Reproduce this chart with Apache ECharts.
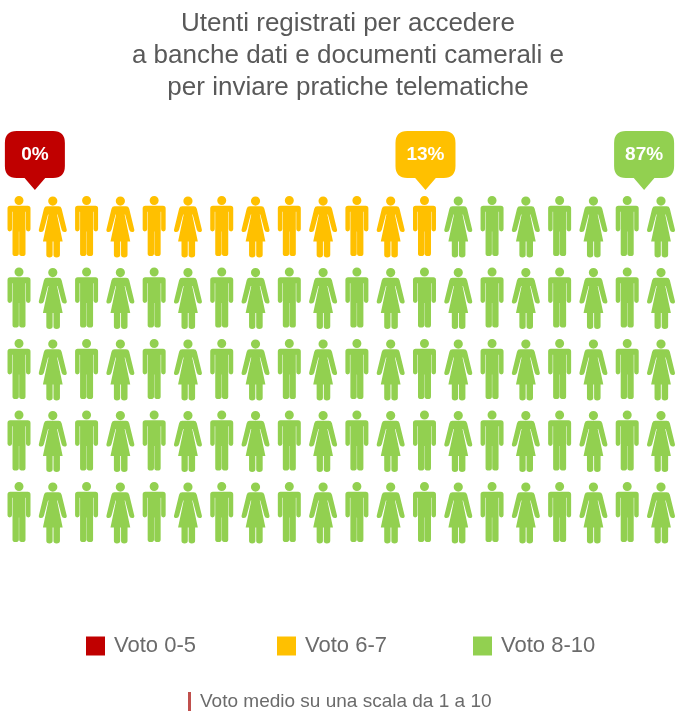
<!DOCTYPE html>
<html><head><meta charset="utf-8">
<style>html,body{margin:0;padding:0;background:#fff}#c{width:681px;height:728px}</style>
<script src="https://cdn.jsdelivr.net/npm/echarts@6/dist/echarts.min.js"></script>
</head><body><div id="c"></div>
<script>
const titleText = "Utenti registrati per accedere\na banche dati e documenti camerali e\nper inviare pratiche telematiche";
const footnote = "Voto medio su una scala da 1 a 10";
const categories = ["Voto 0-5", "Voto 6-7", "Voto 8-10"];
const shares = [0, 13, 87];
const colors = ["#C00000", "#FFC000", "#92D050"];
const calloutColumns = [0.47, 12.03, 18.5];
const columnCount = 20;
const rowCount = 5;

const MAN = "path://M34.5 0a13.5 13.5 0 1 1-.01 0zM8 29H61Q69 29 69 37V99Q69 105 62.500 105 55.500 105 55.500 99V47H54V171Q54 178 45.500 178 35 178 35 171V105H34V171Q34 178 24 178 15 178 15 171V47H13.500V99Q13.500 105 6.500 105 0 105 0 99V37Q0 29 8 29Z";
const WOMAN = "path://M41 0a13.500 13.500 0 1 1-.01 0zM24 29H58Q65 29 67 36L82 98Q83 105 75 105 69 105 67 98L55 53 53.500 53 70 133H62V172Q62 180 52 180 43 180 43 172V133H40.500V172Q40.500 180 31 180 22 180 22 172V133H12L28.500 53 27 53 15 98Q13 105 7 105-1 105 0 98L15 36Q17 29 24 29Z";
const BUBBLE = "path://M12 0H49Q61 0 61 12V35Q61 47 49 47H41L30.500 59 20 47H12Q0 47 0 35V12Q0 0 12 0Z";

// Assign each of the 100 figures, row by row, to a vote band according to its share
const bands = categories.map(() => []);
let person = 0;
shares.forEach((share, b) => {
  for (let i = 0; i < share; i++, person++) {
    const col = person % columnCount;
    const row = Math.floor(person / columnCount);
    bands[b].push({
      value: [col, row],
      symbol: col % 2 ? WOMAN : MAN,
      symbolSize: col % 2 ? [28, 61] : [23, 60],
      symbolOffset: col % 2 ? [0, 1] : [0, 0]
    });
  }
});

const series = categories.map((name, b) => ({
  name, type: "scatter", clip: false, silent: true,
  itemStyle: { color: colors[b], opacity: 1 },
  symbol: "rect",
  data: bands[b]
}));

series.push({
  type: "scatter", clip: false, silent: true,
  symbol: BUBBLE, symbolSize: [60, 59], symbolKeepAspect: false,
  data: shares.map((s, b) => ({
    value: [calloutColumns[b], -0.916],
    itemStyle: { color: colors[b], opacity: 1 },
    label: {
      show: true, position: "inside", offset: [0, -6],
      formatter: s + "%", color: "#fff", fontSize: 19, fontWeight: "bold",
      fontFamily: "Liberation Sans"
    }
  }))
});

const legendLefts = [86, 277, 473];
const chart = echarts.init(document.getElementById("c"), null, { renderer: "canvas" });
chart.setOption({
  animation: false,
  backgroundColor: "#fff",
  title: [{
    text: titleText, left: 343, top: 3, textAlign: "center",
    textStyle: { fontFamily: "Liberation Sans", fontSize: 26, fontWeight: "normal", color: "#595959", lineHeight: 32 }
  }, {
    text: footnote, left: 195, top: 687,
    textStyle: { fontFamily: "Liberation Sans", fontSize: 19, fontWeight: "normal", color: "#6B6B6B" }
  }],
  grid: { left: 19, right: 20, top: 154.5, bottom: 216 },
  xAxis: { type: "value", min: 0, max: columnCount - 1, show: false },
  yAxis: { type: "value", min: -1, max: rowCount - 1, inverse: true, show: false },
  legend: categories.map((name, b) => ({
    data: [{ name, icon: "rect", itemStyle: { color: colors[b] } }],
    left: legendLefts[b], top: 635, padding: 0, itemWidth: 19, itemHeight: 19, selectedMode: false,
    textStyle: { fontFamily: "Liberation Sans", fontSize: 22, color: "#6B6B6B", padding: [0, 0, 0, 4] }
  })),
  graphic: [{
    type: "rect", left: 188, top: 692, shape: { width: 3, height: 19 }, style: { fill: "#C0504D" }
  }],
  series
});
</script></body></html>
